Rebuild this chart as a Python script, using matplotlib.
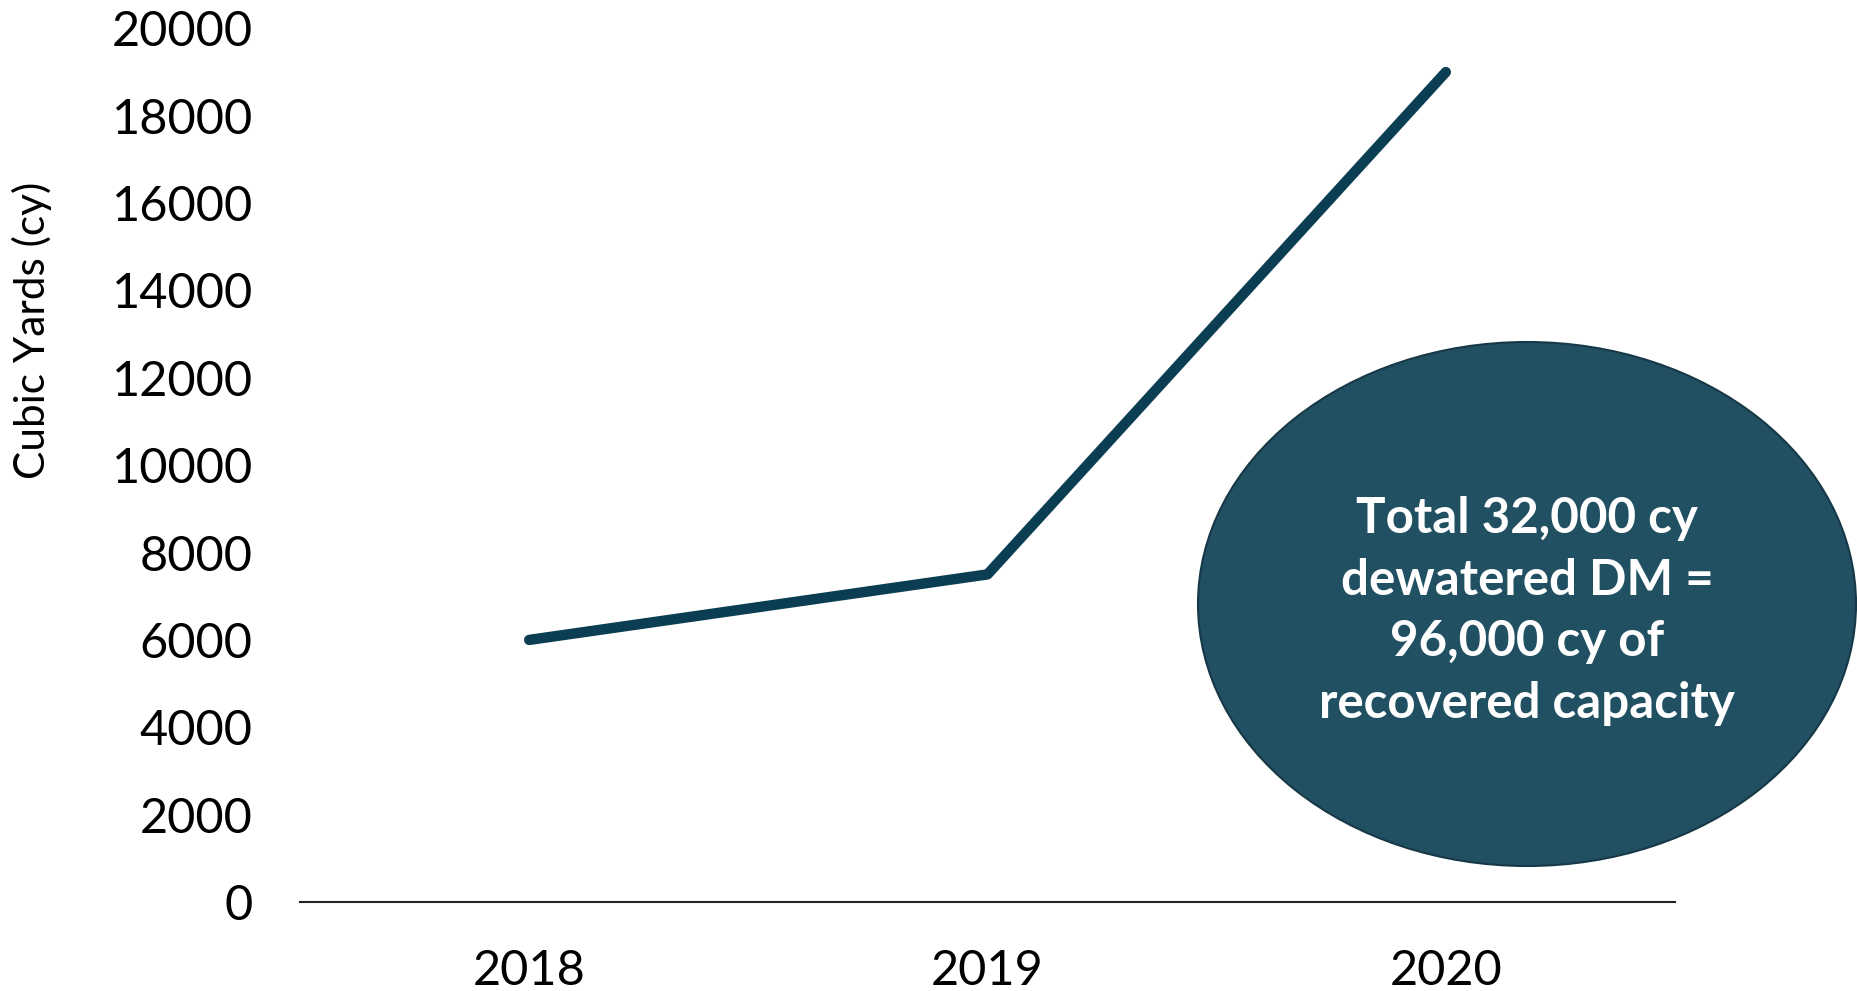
import matplotlib
matplotlib.use('Agg')
import matplotlib.pyplot as plt
import matplotlib.patches

years = ['2018', '2019', '2020']
cubic_yards = [6000, 7500, 19000]
y_ticks = list(range(0, 20001, 2000))
note_lines = ['Total 32,000 cy', 'dewatered DM =', '96,000 cy of', 'recovered capacity']

W, H = 1857, 991
LINE_COLOR = '#0b3e52'
BUBBLE_COLOR = '#215063'

plt.rcParams['font.family'] = ['Lato', 'DejaVu Sans']

fig = plt.figure(figsize=(W / 100, H / 100), dpi=100)
ax = fig.add_axes([300 / W, 1 - 902 / H, 1375 / W, (902 - 28.4) / H])

ax.plot(range(len(years)), cubic_yards, color=LINE_COLOR, linewidth=7.5,
        solid_capstyle='round', solid_joinstyle='round')

ax.set_xlim(-0.5, len(years) - 0.5)
ax.set_ylim(0, 20000)
ax.set_yticks(y_ticks)
ax.set_yticklabels([str(v) for v in y_ticks], fontsize=35)
ax.set_xticks(range(len(years)))
ax.set_xticklabels(years, fontsize=35, family=['Liberation Sans Narrow', 'Lato'])
ax.tick_params(axis='y', length=0, pad=34)
ax.tick_params(axis='x', length=0, pad=34)

for side in ['top', 'right', 'left']:
    ax.spines[side].set_visible(False)
ax.spines['bottom'].set_linewidth(1.5)
ax.spines['bottom'].set_color('#222222')

fig.text(32 / W, 1 - 330 / H, 'Cubic Yards (cy)', rotation=90, fontsize=30.5,
         ha='center', va='center')

# bubble with the total
cx, cy, rx, ry = 1527, 604, 329, 262
bubble = matplotlib.patches.Ellipse((cx / W, 1 - cy / H), 2 * rx / W, 2 * ry / H,
                                    transform=fig.transFigure, facecolor=BUBBLE_COLOR,
                                    edgecolor='#173846', linewidth=1.5)
fig.patches.append(bubble)
fig.text(cx / W, 1 - 611 / H, '\n'.join(note_lines), ha='center', va='center',
         color='white', fontsize=35.5, fontweight='bold', linespacing=1.45)

plt.savefig('out.png', dpi=100)
